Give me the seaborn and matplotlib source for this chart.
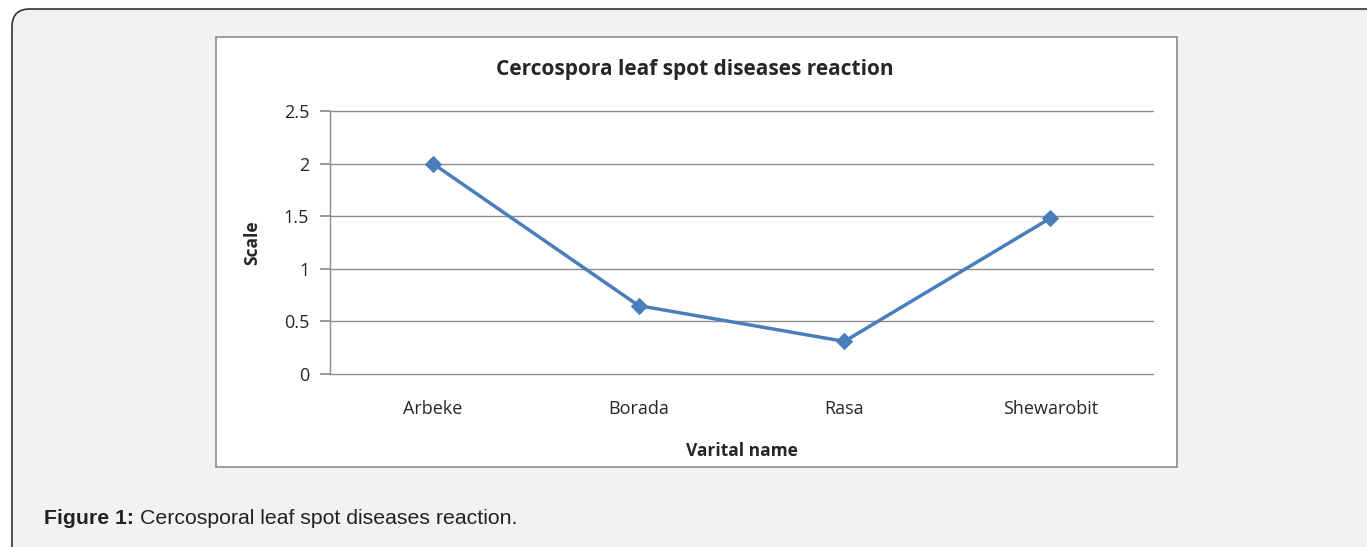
import matplotlib
matplotlib.use("Agg")
import matplotlib.pyplot as plt
import seaborn as sns
import pandas as pd
from matplotlib.patches import FancyBboxPatch, Rectangle

# Data
varieties = ["Arbeke", "Borada", "Rasa", "Shewarobit"]
scale = [2.0, 0.65, 0.31, 1.48]
y_ticks = [0, 0.5, 1, 1.5, 2, 2.5]
y_tick_labels = ["0", "0.5", "1", "1.5", "2", "2.5"]

df = pd.DataFrame({"variety": varieties, "scale": scale})

sns.set_theme(style="white")
plt.rcParams["font.family"] = ["Open Sans", "DejaVu Sans"]

W, H = 1367, 547
fig = plt.figure(figsize=(W / 100, H / 100), dpi=100)
fig.patch.set_facecolor("white")

# outer panel with rounded corners
panel = FancyBboxPatch((12 / W, -20 / H), 1400 / W, (H - 9 + 20) / H,
                       boxstyle="round,pad=0,rounding_size=0.013",
                       transform=fig.transFigure, facecolor="#f1f2f4",
                       edgecolor="#333333", linewidth=1.2, mutation_aspect=W / H,
                       zorder=-2)
fig.patches.append(panel)

# white chart area box
box = Rectangle((216 / W, (H - 467) / H), (1177 - 216) / W, (467 - 37) / H,
                transform=fig.transFigure, facecolor="white",
                edgecolor="#8c8c8c", linewidth=1.2, zorder=-1)
fig.patches.append(box)

ax = fig.add_axes([330 / W, (H - 374) / H, (1153 - 330) / W, (374 - 111) / H])
ax.set_facecolor("white")

sns.lineplot(data=df, x="variety", y="scale", ax=ax, color="#4a7ebb",
             linewidth=2.5, marker="D", markersize=8, markeredgecolor="#4a7ebb",
             sort=False)

ax.set_xlim(-0.5, len(varieties) - 0.5)
ax.set_ylim(0, 2.5)
ax.set_yticks(y_ticks)
ax.set_yticklabels(y_tick_labels, fontsize=13)
ax.set_xticks(range(len(varieties)))
ax.set_xticklabels(varieties, fontsize=13)
ax.yaxis.grid(True, color="#8c8c8c", linewidth=1.0)
ax.xaxis.grid(False)
ax.set_axisbelow(True)
for gl in ax.get_ygridlines():
    gl.set_clip_on(False)

for s in ["top", "right", "bottom"]:
    ax.spines[s].set_visible(False)
ax.spines["left"].set_color("#8c8c8c")
ax.spines["left"].set_linewidth(1.0)
ax.tick_params(axis="y", left=True, length=7, color="#8c8c8c", pad=8)
ax.tick_params(axis="x", bottom=False, pad=13)

ax.set_xlabel("Varital name", fontsize=12.5, fontweight="bold", labelpad=17)
ax.set_ylabel("Scale", fontsize=12.5, fontweight="bold", labelpad=16)

fig.text(695 / W, 1 - 70 / H, "Cercospora leaf spot diseases reaction",
         ha="center", va="center", fontsize=15, fontweight="bold")

fig.text(44 / W, 1 - 518 / H, "Figure 1:", ha="left", va="center",
         fontsize=15.3, fontweight="bold", family=["Liberation Sans", "DejaVu Sans"],
         color="#222222")
fig.text(140 / W, 1 - 518 / H, "Cercosporal leaf spot diseases reaction.",
         ha="left", va="center", fontsize=15.3,
         family=["Liberation Sans", "DejaVu Sans"], color="#222222")

fig.savefig("out.png", dpi=100, facecolor=fig.get_facecolor())
